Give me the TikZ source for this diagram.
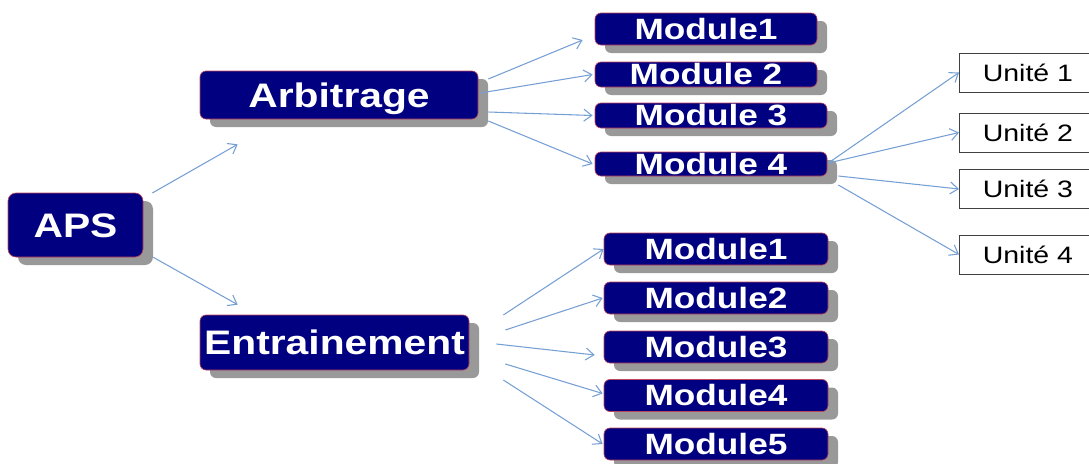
\documentclass[tikz,border=0pt]{standalone}
\usepackage{fontspec}
\setmainfont{Liberation Sans}
\newfontfamily\boxfont[FakeStretch=1.2]{Liberation Sans}
\usetikzlibrary{arrows.meta,shadows}

\definecolor{navy}{RGB}{0,0,128}
\definecolor{rim}{RGB}{190,70,90}
\definecolor{link}{RGB}{118,160,212}

\tikzset{
  darkbox/.style={draw=rim, line width=0.5pt, fill=navy, text=white,
    rounded corners=4.5pt, inner sep=0pt, text depth=0pt,
    drop shadow={shadow xshift=7.5pt, shadow yshift=-6pt, fill=black!40, opacity=1},
    font=\boxfont\bfseries},
  bigbox/.style={darkbox, font=\boxfont\bfseries\fontsize{25.5pt}{25.5pt}\selectfont, text height=18.2pt},
  modbox/.style={darkbox, font=\boxfont\bfseries\fontsize{22pt}{22pt}\selectfont, text height=15.7pt},
  unitbox/.style={draw=black!75, line width=0.6pt, fill=white, inner sep=0pt,
    minimum width=99.75pt, minimum height=29.25pt,
    font=\boxfont\fontsize{17.8pt}{17.8pt}\selectfont},
  link/.style={draw=link, line width=0.8pt, -{Straight Barb[length=6pt,width=9pt]}}
}

\begin{document}
\begin{tikzpicture}[x=0.75pt,y=-0.75pt]
\useasboundingbox (0,0) rectangle (1089,464);
\clip (0,0) rectangle (1089,464);

% root and branches
\node[bigbox, minimum width=101.25pt, minimum height=48pt, rounded corners=6pt] (aps) at (75.5,225) {APS};
\node[bigbox, minimum width=208.5pt, minimum height=36pt] (arb) at (339,95) {Arbitrage};
\node[bigbox, minimum width=201.75pt, minimum height=41.25pt] (ent) at (334.5,342.5) {Entrainement};

% modules of Arbitrage
\node[modbox, minimum width=166.5pt, minimum height=24pt] (am1) at (706,29) {Module1};
\node[modbox, minimum width=166.5pt, minimum height=18.75pt] (am2) at (706,74.5) {Module 2};
\node[modbox, minimum width=174pt, minimum height=18.75pt] (am3) at (711,115.5) {Module 3};
\node[modbox, minimum width=174pt, minimum height=18pt] (am4) at (711,164) {Module 4};

% modules of Entrainement
\foreach \i/\y in {1/249, 2/298, 3/347, 4/395.5, 5/444}
  \node[modbox, minimum width=168pt, minimum height=24pt] (em\i) at (716,\y) {Module\i};

% units of Module 4
\foreach \i/\y in {1/72.5, 2/132.5, 3/189, 4/254.5}
  \node[unitbox, anchor=west] (u\i) at (959,\y) {\hspace*{3pt}Unité \i};

% connectors
\draw[link] ([shift={(9,-32)}]aps.east) -- ([shift={(38,25)}]arb.south west);
\draw[link] ([shift={(10,0)}]aps.south east) -- ([shift={(38,-10)}]ent.north west);

\draw[link] ([shift={(10,-16)}]arb.east) -- ([shift={(-12,11)}]am1.west);
\draw[link] ([shift={(2,-2)}]arb.east) -- ([shift={(-2,0)}]am2.west);
\draw[link] ([shift={(10,17)}]arb.east) -- ([shift={(-2,0)}]am3.west);
\draw[link] ([shift={(10,26)}]arb.east) -- ([shift={(-2,0)}]am4.west);

\draw[link] ([shift={(1,-1)}]am4.east) -- (u1.west);
\draw[link] ([shift={(1,-1)}]am4.east) -- (u2.west);
\draw[link] ([shift={(11,12)}]am4.east) -- (u3.west);
\draw[link] ([shift={(11,21)}]am4.east) -- (u4.west);

\draw[link] ([shift={(34,-27.5)}]ent.east) -- (em1.west);
\draw[link] ([shift={(36,-12.5)}]ent.east) -- ([shift={(-1,0)}]em2.west);
\draw[link] ([shift={(27,1.5)}]ent.east) -- ([shift={(-9,8)}]em3.west);
\draw[link] ([shift={(36,21.5)}]ent.east) -- ([shift={(-1,-2)}]em4.west);
\draw[link] ([shift={(34,37.5)}]ent.east) -- ([shift={(-1,0)}]em5.west);
\end{tikzpicture}
\end{document}
